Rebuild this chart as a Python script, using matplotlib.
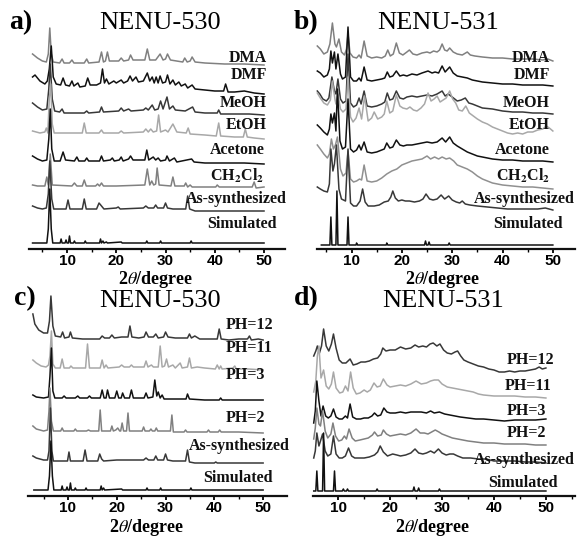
import numpy as np
import matplotlib
matplotlib.use("Agg")
import matplotlib.pyplot as plt
from matplotlib.ticker import MultipleLocator

plt.rcParams['font.family'] = ['Liberation Serif', 'DejaVu Serif']
plt.rcParams['mathtext.fontset'] = 'stix'

# ---- data: each trace is flat (2theta, offset intensity) pairs ----

# a) NENU-530, solvents
a_names = ['DMA', 'DMF', 'MeOH', 'EtOH', 'Acetone', r'CH$_\mathbf{2}$Cl$_\mathbf{2}$', 'As-synthesized', 'Simulated']
a_dma = [3.0, 195, 4.0, 191, 5.0, 188, 5.8, 187, 6.2, 195, 6.5, 221, 6.8, 195, 7.2, 187, 8.5, 186, 9.0, 190, 9.4, 186,
         10.5, 186, 11.0, 189, 11.4, 186, 13.5, 186, 14.0, 190, 14.4, 186, 16.5, 187, 17.0, 197, 17.4, 187, 17.8, 188,
         18.2, 197, 18.6, 188, 20.5, 188, 21.0, 191, 21.5, 188, 22.5, 189, 22.9, 194, 23.4, 189, 25.8, 189, 26.3, 200,
         26.8, 189, 28.0, 189, 28.9, 195, 29.5, 189, 30.0, 190, 30.4, 195, 31.0, 189, 33.5, 187, 33.9, 191, 34.4, 187,
         35.0, 188, 35.4, 192, 36.0, 187, 38.0, 186, 42.0, 185, 46.0, 185, 50.0, 184]
a_dmf = [3.0, 172, 3.5, 174, 4.5, 168, 5.5, 165, 6.0, 168, 6.4, 180, 6.8, 203, 7.2, 172, 7.8, 165, 8.7, 164, 9.2, 171,
         9.7, 164, 10.5, 163, 11.0, 168, 11.4, 163, 12.2, 166, 12.6, 162, 13.7, 163, 14.2, 171, 14.7, 164, 16.0, 164,
         16.8, 166, 17.2, 180, 17.6, 166, 18.0, 170, 18.5, 165, 19.5, 168, 20.0, 166, 21.0, 169, 21.5, 166, 22.3, 168,
         22.8, 173, 23.3, 168, 24.0, 172, 24.5, 167, 25.5, 168, 26.3, 176, 26.8, 168, 27.3, 172, 27.7, 166, 28.1, 172,
         28.5, 166, 28.9, 173, 29.4, 166, 30.0, 167, 30.4, 174, 30.9, 165, 31.5, 169, 32.0, 164, 32.7, 167, 33.2, 163,
         34.0, 165, 34.5, 161, 35.4, 164, 36.0, 160, 38.0, 159, 40.0, 158, 41.8, 158, 42.2, 165, 42.7, 157, 44.0, 157,
         46.0, 158, 48.0, 156, 50.0, 155]
a_meoh = [3.0, 146, 4.0, 142, 5.0, 139, 5.9, 140, 6.3, 160, 6.6, 185, 7.0, 150, 7.5, 138, 8.5, 137, 9.0, 140, 9.4, 136,
          11.0, 136, 13.5, 136, 14.0, 138, 14.4, 136, 16.6, 137, 17.0, 142, 17.4, 137, 20.5, 138, 21.0, 141, 21.5, 138,
          22.5, 140, 23.0, 138, 25.5, 139, 26.0, 141, 26.5, 139, 27.3, 144, 27.8, 139, 28.5, 140, 29.0, 148, 29.5, 140,
          30.3, 152, 30.8, 140, 31.5, 143, 32.0, 139, 34.0, 138, 35.5, 142, 36.0, 137, 38.0, 136, 40.5, 136, 40.8, 139,
          41.2, 135, 44.0, 135, 47.0, 135, 50.0, 134]
a_etoh = [3.0, 118, 4.5, 116, 5.5, 117, 5.8, 121, 6.1, 116, 6.4, 150, 6.7, 165, 7.0, 125, 7.4, 116, 10.0, 116, 13.1, 116,
          13.5, 126, 13.9, 116, 16.5, 116, 17.0, 119, 17.4, 116, 20.5, 116, 21.0, 118, 21.5, 116, 25.5, 117, 26.0, 120,
          26.5, 117, 27.0, 120, 27.5, 117, 28.2, 118, 28.6, 134, 29.0, 117, 30.0, 119, 30.5, 117, 31.5, 125, 32.3, 117,
          34.2, 116, 34.6, 121, 35.0, 115, 38.0, 114, 40.3, 113, 40.8, 126, 41.2, 113, 44.0, 112, 45.8, 112, 46.2, 120,
          46.6, 112, 48.0, 111, 50.0, 110]
a_acetone = [3.0, 93, 4.0, 90, 5.0, 88, 5.9, 89, 6.3, 110, 6.6, 140, 6.9, 100, 7.4, 88, 8.6, 88, 9.2, 97, 9.7, 89,
             11.5, 88, 12.0, 92, 12.4, 88, 13.6, 88, 14.0, 91, 14.4, 88, 16.6, 88, 17.0, 93, 17.4, 88, 18.8, 89, 19.2, 91,
             19.6, 88, 20.6, 89, 21.0, 92, 21.4, 88, 22.5, 90, 22.9, 93, 23.4, 89, 25.8, 89, 26.2, 99, 26.6, 89, 27.5, 92,
             28.0, 89, 28.5, 91, 29.0, 88, 30.0, 89, 30.3, 93, 30.8, 88, 31.8, 91, 32.3, 87, 35.3, 90, 35.8, 87, 38.0, 86,
             42.0, 86, 46.0, 86, 50.0, 85]
a_ch2cl2 = [3.0, 64, 4.0, 63, 5.5, 63, 5.9, 72, 6.2, 64, 6.6, 95, 7.0, 64, 11.0, 63, 11.5, 66, 12.0, 63, 13.1, 63,
            13.5, 69, 13.9, 63, 15.8, 63, 16.2, 65, 16.6, 63, 17.0, 66, 17.4, 63, 20.0, 63, 25.8, 64, 26.3, 80, 26.8, 64,
            27.2, 68, 27.6, 64, 28.0, 65, 28.3, 81, 28.7, 64, 31.1, 63, 31.5, 72, 31.9, 63, 33.8, 63, 34.1, 66, 34.5, 62,
            35.0, 64, 35.4, 62, 40.2, 62, 40.5, 64, 40.9, 62, 47.6, 62, 48.0, 67, 48.4, 61, 50.0, 62]
a_assyn = [3.0, 43, 4.0, 41, 5.0, 40, 5.8, 41, 6.2, 55, 6.5, 88, 6.9, 50, 7.3, 40, 9.8, 40, 10.2, 49, 10.6, 40,
           13.1, 40, 13.5, 50, 13.9, 40, 16.0, 40, 16.5, 46, 17.0, 43, 17.5, 40, 20.0, 41, 20.4, 42, 20.8, 40, 25.5, 41,
           26.0, 43, 26.5, 41, 27.6, 41, 28.0, 44, 28.4, 41, 29.6, 41, 30.0, 46, 30.4, 41, 31.5, 40, 34.1, 40, 34.5, 53,
           34.9, 40, 36.0, 38, 40.0, 38, 45.0, 38, 50.0, 38]
a_sim = [3.0, 6, 5.9, 6, 6.2, 20, 6.5, 60, 6.8, 20, 7.1, 6, 8.6, 6, 8.8, 10, 9.0, 6, 9.6, 6, 9.8, 9, 10.0, 6, 10.3, 6,
         10.5, 13, 10.7, 6, 11.3, 6, 11.5, 8, 11.7, 6, 13.5, 6, 13.7, 8, 13.9, 6, 16.6, 6, 16.8, 10, 17.0, 6, 17.3, 8,
         17.5, 6, 18.0, 7, 18.2, 6, 21.0, 7, 21.2, 6, 26.0, 6, 26.2, 8, 26.4, 6, 28.8, 6, 29.0, 8, 29.2, 6, 35.0, 6,
         35.2, 8, 35.4, 6, 50.0, 6]

# b) NENU-531, solvents
b_names = a_names
b_dma = [3.2, 203, 3.8, 200, 4.5, 195, 5.2, 197, 5.7, 205, 6.2, 226, 6.7, 205, 7.0, 202, 7.5, 210, 8.0, 197, 8.6, 194,
         9.0, 200, 9.3, 215, 9.7, 196, 10.3, 192, 11.0, 191, 11.5, 194, 11.9, 191, 12.5, 208, 13.1, 193, 14.0, 191,
         15.0, 192, 16.0, 191, 16.7, 193, 17.2, 199, 17.7, 193, 18.3, 195, 18.9, 206, 19.5, 196, 20.2, 194, 21.0, 197,
         21.5, 199, 22.2, 195, 23.0, 194, 24.0, 196, 25.0, 197, 25.6, 196, 26.3, 198, 27.0, 197, 27.5, 199, 28.0, 205,
         28.5, 199, 29.0, 198, 29.5, 201, 30.2, 197, 31.0, 195, 32.0, 194, 33.0, 197, 33.6, 194, 34.5, 193, 36.0, 192,
         38.0, 191, 40.0, 191, 42.0, 190, 44.0, 190, 46.0, 190, 48.0, 189, 49.0, 190, 50.0, 188]
b_dmf = [3.2, 178, 3.8, 176, 4.5, 172, 5.2, 174, 5.6, 180, 5.9, 198, 6.2, 186, 6.6, 197, 6.9, 180, 7.3, 195, 7.8, 175,
         8.2, 170, 8.8, 172, 9.3, 222, 9.8, 172, 10.4, 168, 11.0, 168, 11.5, 171, 11.9, 168, 12.5, 182, 13.1, 169,
         14.0, 168, 15.0, 169, 16.0, 170, 16.6, 171, 17.1, 177, 17.6, 172, 18.2, 173, 18.9, 178, 19.6, 173, 20.3, 174,
         21.0, 173, 22.0, 175, 23.0, 174, 24.0, 176, 25.2, 178, 26.0, 176, 26.6, 177, 27.3, 176, 28.0, 183, 28.6, 177,
         29.5, 182, 30.2, 176, 31.0, 173, 32.0, 172, 33.0, 171, 34.0, 169, 35.0, 168, 36.0, 167, 38.0, 166, 40.0, 165,
         42.0, 165, 44.0, 164, 46.0, 164, 48.0, 164, 50.0, 163]
b_meoh = [3.2, 158, 3.7, 155, 4.3, 150, 5.0, 148, 5.5, 151, 6.1, 172, 6.6, 158, 6.9, 155, 7.3, 170, 7.8, 150, 8.3, 146,
          8.9, 148, 9.3, 195, 9.8, 146, 10.4, 142, 11.0, 144, 11.5, 151, 11.9, 145, 12.5, 158, 13.1, 143, 14.0, 142,
          15.0, 143, 16.0, 145, 16.6, 147, 17.1, 156, 17.6, 149, 18.2, 150, 18.9, 158, 19.6, 151, 20.3, 150, 21.0, 152,
          22.0, 153, 23.0, 152, 24.0, 153, 25.0, 154, 26.0, 153, 27.0, 155, 28.0, 158, 28.6, 153, 29.2, 155, 30.0, 152,
          31.0, 148, 31.8, 149, 32.6, 151, 33.3, 146, 34.0, 145, 35.0, 143, 36.0, 141, 38.0, 140, 40.0, 138, 42.0, 137,
          44.0, 137, 46.0, 136, 48.0, 136, 50.0, 135]
b_etoh = [3.2, 156, 3.8, 151, 4.5, 146, 5.2, 144, 5.8, 149, 6.2, 168, 6.7, 150, 6.9, 145, 7.3, 155, 7.8, 140, 8.3, 137,
          8.9, 140, 9.3, 172, 9.8, 132, 10.3, 127, 10.9, 131, 11.5, 141, 12.0, 130, 12.6, 153, 13.3, 128, 14.0, 131,
          14.5, 137, 15.2, 130, 16.0, 132, 16.5, 135, 17.0, 148, 17.6, 136, 18.2, 138, 18.9, 154, 19.6, 143, 20.2, 141,
          21.0, 140, 21.6, 142, 22.3, 139, 23.0, 138, 23.8, 141, 24.5, 145, 25.2, 156, 25.8, 148, 26.4, 150, 27.0, 153,
          27.6, 147, 28.2, 149, 28.8, 151, 29.5, 158, 30.1, 150, 30.7, 146, 31.3, 139, 32.0, 138, 32.7, 143, 33.4, 136,
          34.2, 133, 35.0, 130, 36.0, 127, 37.0, 125, 38.0, 122, 39.0, 120, 40.0, 118, 41.0, 116, 42.0, 115, 43.0, 116,
          44.0, 115, 45.0, 117, 46.0, 117, 47.0, 119, 48.0, 120, 48.7, 123, 49.3, 121, 50.0, 118]
b_acetone = [3.2, 124, 3.8, 121, 4.5, 117, 5.2, 114, 5.6, 120, 5.9, 135, 6.2, 126, 6.6, 136, 6.9, 118, 7.2, 160,
             7.7, 108, 8.2, 100, 8.8, 102, 9.3, 150, 9.8, 100, 10.4, 97, 11.0, 99, 11.5, 104, 11.9, 99, 12.5, 107,
             13.1, 97, 14.0, 96, 15.0, 97, 16.0, 99, 16.5, 100, 17.0, 106, 17.6, 101, 18.2, 102, 18.9, 109, 19.6, 104,
             20.3, 103, 21.0, 104, 22.0, 104, 23.0, 105, 24.0, 106, 25.0, 107, 26.0, 106, 27.0, 107, 28.0, 111,
             28.7, 107, 29.5, 112, 30.2, 106, 31.0, 103, 32.0, 100, 33.0, 97, 34.0, 95, 35.0, 93, 36.0, 92, 38.0, 90,
             40.0, 89, 42.0, 89, 44.0, 88, 46.0, 88, 48.0, 88, 50.0, 87]
b_ch2cl2 = [3.2, 104, 3.8, 100, 4.5, 95, 5.2, 91, 5.6, 95, 6.0, 110, 6.4, 100, 6.8, 104, 7.2, 112, 7.8, 80, 8.3, 73,
            8.9, 76, 9.3, 98, 9.8, 70, 10.4, 67, 11.0, 68, 11.6, 70, 12.0, 69, 12.5, 84, 13.1, 68, 14.0, 67, 15.0, 68,
            16.0, 71, 17.0, 75, 18.0, 78, 19.0, 80, 20.0, 84, 21.0, 86, 22.0, 88, 23.0, 89, 24.0, 90, 25.0, 93,
            25.7, 90, 26.5, 92, 27.3, 90, 28.0, 92, 28.8, 90, 29.5, 91, 30.3, 88, 31.0, 84, 32.0, 82, 33.0, 80,
            34.0, 77, 35.0, 73, 36.0, 70, 37.0, 68, 38.0, 66, 40.0, 64, 42.0, 63, 44.0, 62, 46.0, 62, 48.0, 61, 50.0, 60]
b_assyn = [3.2, 62, 3.8, 60, 4.5, 58, 5.2, 57, 5.6, 65, 5.9, 100, 6.3, 78, 6.6, 85, 7.0, 104, 7.5, 60, 8.0, 50,
           8.8, 48, 9.3, 100, 9.8, 46, 10.4, 43, 11.0, 43, 11.7, 48, 12.2, 60, 12.7, 47, 13.3, 43, 14.5, 43, 15.5, 44,
           16.5, 47, 17.3, 48, 17.8, 52, 18.2, 58, 18.7, 51, 19.3, 48, 20.0, 49, 20.7, 48, 21.5, 48, 22.5, 47, 23.5, 48,
           24.2, 50, 24.8, 55, 25.5, 50, 26.2, 49, 27.0, 50, 27.8, 54, 28.5, 50, 29.3, 53, 30.0, 49, 30.8, 47, 31.5, 46,
           32.0, 48, 32.6, 45, 33.5, 44, 35.0, 43, 37.0, 42, 39.0, 41, 41.0, 40, 43.0, 40, 45.0, 40, 47.0, 40,
           48.5, 41, 50.0, 39]
b_sim = [4.0, 4, 5.7, 4, 5.9, 32, 6.1, 4, 6.9, 4, 7.1, 58, 7.3, 4, 9.1, 4, 9.3, 32, 9.5, 4, 10.9, 4, 11.0, 6, 11.2, 4,
         16.9, 4, 17.0, 6, 17.2, 4, 24.5, 4, 24.7, 8, 24.9, 4, 25.2, 4, 25.4, 7, 25.6, 4, 29.2, 4, 29.4, 6, 29.6, 4,
         50.0, 4]

# c) NENU-530, pH
c_names = ['PH=12', 'PH=11', 'PH=3', 'PH=2', 'As-synthesized', 'Simulated']
c_ph12 = [2.8, 182, 3.2, 172, 4.0, 166, 5.0, 163, 5.8, 163, 6.2, 175, 6.5, 200, 6.9, 170, 7.4, 160, 8.5, 159, 8.9, 164,
          9.3, 158, 10.2, 159, 10.5, 164, 10.9, 158, 13.0, 157, 16.5, 157, 17.0, 160, 17.5, 158, 18.5, 158, 19.0, 161,
          19.5, 158, 21.0, 159, 22.3, 159, 22.7, 170, 23.1, 159, 24.5, 158, 25.6, 159, 26.0, 164, 26.5, 159, 27.5, 159,
          28.0, 162, 28.5, 158, 29.6, 159, 30.0, 164, 30.5, 159, 32.0, 158, 34.5, 158, 34.9, 162, 35.3, 158, 36.0, 160,
          37.0, 157, 40.6, 157, 41.0, 167, 41.4, 157, 43.0, 156, 45.0, 157, 46.8, 157, 47.2, 160, 47.6, 156, 49.0, 157,
          50.0, 156]
c_ph11 = [2.8, 136, 3.5, 133, 4.5, 130, 5.5, 129, 6.0, 131, 6.3, 140, 6.6, 165, 6.9, 132, 7.4, 128, 8.4, 128, 8.8, 137,
          9.2, 128, 10.3, 128, 10.6, 130, 11.0, 128, 13.6, 128, 14.0, 152, 14.4, 128, 16.6, 128, 17.0, 136, 17.4, 128,
          17.8, 131, 18.2, 128, 20.5, 129, 21.0, 131, 21.5, 129, 22.6, 129, 23.0, 131, 23.4, 129, 25.6, 129, 26.0, 135,
          26.4, 129, 27.1, 131, 27.5, 129, 28.5, 129, 28.9, 150, 29.3, 129, 29.8, 130, 30.2, 137, 30.6, 129, 31.5, 131,
          32.0, 128, 33.0, 133, 33.4, 128, 34.5, 129, 34.9, 138, 35.3, 128, 36.5, 129, 38.0, 128, 40.2, 127, 40.6, 131,
          41.0, 127, 41.3, 130, 41.6, 127, 43.8, 128, 44.2, 130, 44.5, 127, 47.0, 127, 50.0, 126]
c_ph3 = [2.8, 101, 3.5, 99, 5.0, 98, 6.0, 99, 6.3, 120, 6.6, 148, 6.9, 105, 7.3, 98, 8.8, 98, 9.2, 100, 9.6, 98,
         11.5, 98, 12.0, 100, 12.4, 98, 14.0, 98, 14.4, 100, 14.8, 98, 16.6, 98, 17.0, 106, 17.4, 98, 17.8, 98,
         18.1, 106, 18.5, 98, 19.6, 98, 20.0, 105, 20.4, 98, 20.9, 98, 21.2, 103, 21.6, 98, 22.6, 98, 23.0, 106,
         23.4, 98, 25.6, 98, 26.0, 103, 26.4, 98, 27.4, 99, 27.8, 116, 28.2, 100, 28.5, 104, 28.9, 98, 29.3, 101,
         29.7, 97, 31.5, 97, 34.2, 97, 34.5, 102, 34.9, 97, 38.0, 96, 41.0, 96, 41.3, 98, 41.6, 96, 45.0, 96, 50.0, 96]
c_ph2 = [2.8, 70, 3.5, 67, 5.0, 65, 5.8, 66, 6.1, 85, 6.3, 108, 6.6, 75, 7.0, 65, 8.5, 65, 8.8, 68, 9.1, 65, 11.2, 65,
         11.5, 67, 11.8, 65, 13.8, 65, 14.2, 66, 14.6, 65, 16.3, 65, 16.6, 86, 16.9, 65, 18.7, 65, 19.0, 70, 19.3, 65,
         19.8, 66, 20.2, 68, 20.6, 65, 20.8, 65, 21.1, 73, 21.4, 65, 22.0, 65, 22.3, 83, 22.6, 65, 25.2, 65, 25.5, 69,
         25.8, 65, 26.7, 65, 27.0, 67, 27.3, 65, 27.8, 65, 28.1, 68, 28.4, 65, 31.0, 65, 31.3, 81, 31.6, 64, 33.8, 64,
         34.1, 66, 34.4, 64, 38.5, 64, 38.8, 66, 39.1, 64, 40.8, 64, 41.1, 66, 41.4, 64, 45.0, 64, 50.0, 63]
c_assyn = [2.8, 40, 3.5, 38, 5.0, 36, 5.8, 36, 6.1, 45, 6.4, 88, 6.7, 45, 7.0, 35, 9.9, 35, 10.2, 44, 10.5, 35,
           13.1, 35, 13.5, 46, 13.9, 35, 16.1, 35, 16.5, 42, 16.9, 37, 17.3, 35, 20.0, 36, 25.5, 36, 26.0, 38, 26.5, 36,
           27.6, 36, 28.0, 40, 28.4, 36, 29.6, 36, 30.0, 42, 30.4, 36, 31.5, 35, 34.1, 35, 34.5, 46, 34.9, 34, 36.0, 33,
           40.0, 33, 40.3, 34, 40.6, 33, 45.0, 33, 50.0, 33]
c_sim = [3.0, 6, 5.9, 6, 6.2, 20, 6.5, 55, 6.8, 20, 7.1, 6, 8.6, 6, 8.8, 10, 9.0, 6, 9.6, 6, 9.8, 9, 10.0, 6, 10.3, 6,
         10.5, 13, 10.7, 6, 11.3, 6, 11.5, 8, 11.7, 6, 13.5, 6, 13.7, 8, 13.9, 6, 16.6, 6, 16.8, 10, 17.0, 6, 17.3, 8,
         17.5, 6, 21.0, 7, 21.2, 6, 26.0, 6, 26.2, 8, 26.4, 6, 28.8, 6, 29.0, 8, 29.2, 6, 35.0, 6, 35.2, 8, 35.4, 6,
         50.0, 6]

# d) NENU-531, pH
d_names = c_names
d_ph12 = [5.3, 140, 5.7, 145, 6.0, 150, 6.4, 143, 6.8, 150, 7.2, 167, 7.7, 150, 8.2, 145, 8.7, 152, 9.1, 162, 9.6, 148,
          10.2, 136, 10.8, 133, 11.5, 133, 12.3, 137, 12.9, 131, 13.6, 132, 14.4, 134, 15.2, 134, 16.0, 135, 16.8, 137,
          17.6, 138, 18.2, 142, 18.6, 148, 19.2, 145, 20.0, 146, 21.0, 146, 22.0, 149, 23.0, 147, 24.0, 148, 24.8, 151,
          25.5, 149, 26.3, 150, 27.0, 149, 27.7, 152, 28.3, 153, 29.0, 150, 29.6, 152, 30.3, 146, 31.0, 143, 31.8, 142,
          32.5, 144, 33.0, 145, 33.6, 140, 34.2, 136, 35.0, 134, 36.0, 132, 37.0, 130, 38.0, 129, 39.0, 127, 40.0, 126,
          41.0, 124, 42.0, 124, 43.0, 125, 44.0, 124, 45.0, 125, 46.0, 125, 47.0, 126, 48.0, 127, 48.7, 129, 49.3, 127,
          50.0, 128]
d_ph11 = [5.3, 104, 5.7, 115, 6.0, 140, 6.3, 150, 6.7, 118, 7.2, 126, 7.7, 110, 8.2, 107, 8.7, 112, 9.1, 124, 9.6, 108,
          10.3, 103, 10.9, 104, 11.4, 110, 11.9, 105, 12.4, 124, 12.9, 108, 13.5, 102, 14.2, 103, 15.0, 106, 15.6, 104,
          16.2, 106, 16.9, 113, 17.5, 109, 18.1, 110, 18.7, 117, 19.4, 111, 20.0, 109, 21.0, 110, 22.0, 111, 23.0, 110,
          24.0, 112, 25.0, 115, 26.0, 112, 27.0, 113, 27.8, 115, 28.5, 116, 29.3, 116, 30.0, 112, 31.0, 109, 32.0, 108,
          33.0, 107, 34.0, 106, 35.0, 105, 36.0, 104, 37.0, 102, 38.0, 101, 40.0, 100, 42.0, 100, 44.0, 100, 46.0, 99,
          48.0, 99, 50.0, 98]
d_ph3 = [5.3, 73, 5.6, 85, 5.9, 115, 6.3, 95, 6.7, 80, 7.1, 90, 7.6, 80, 8.1, 78, 8.6, 80, 9.1, 87, 9.6, 79, 10.2, 77,
         10.8, 77, 11.4, 80, 11.8, 78, 12.3, 92, 12.8, 79, 13.5, 77, 14.3, 77, 15.0, 78, 15.8, 78, 16.5, 80, 17.0, 83,
         17.6, 80, 18.2, 81, 18.8, 88, 19.4, 84, 20.0, 83, 21.0, 83, 22.0, 84, 23.0, 83, 24.0, 84, 25.0, 84, 26.0, 84,
         27.0, 83, 27.8, 85, 28.5, 83, 29.5, 84, 30.5, 82, 31.5, 81, 32.5, 80, 33.5, 79, 35.0, 78, 36.5, 77, 38.0, 77,
         40.0, 76, 42.0, 75, 44.0, 76, 46.0, 76, 48.0, 76, 50.0, 77]
d_ph2 = [5.3, 57, 5.6, 68, 5.9, 88, 6.3, 72, 6.6, 70, 7.0, 85, 7.5, 65, 8.0, 58, 8.6, 62, 9.0, 73, 9.5, 60, 10.1, 55,
         10.7, 56, 11.2, 60, 11.6, 57, 12.1, 67, 12.7, 58, 13.3, 55, 14.2, 56, 15.0, 57, 15.8, 58, 16.6, 61, 17.0, 64,
         17.6, 60, 18.3, 61, 18.7, 66, 19.3, 62, 20.0, 60, 21.0, 61, 22.0, 62, 23.0, 61, 24.0, 63, 25.0, 67, 25.8, 63,
         26.6, 63, 27.3, 62, 28.0, 64, 28.7, 66, 29.4, 64, 30.0, 62, 31.0, 60, 32.0, 58, 33.0, 57, 34.0, 56, 35.0, 55,
         36.5, 54, 38.0, 53, 40.0, 53, 42.0, 52, 44.0, 52, 46.0, 52, 48.0, 51, 50.0, 51]
d_assyn = [5.3, 38, 5.6, 45, 5.9, 63, 6.3, 50, 6.6, 55, 7.0, 62, 7.5, 45, 8.0, 40, 8.6, 42, 9.1, 60, 9.6, 42, 10.2, 38,
           10.8, 38, 11.4, 40, 12.0, 48, 12.6, 40, 13.2, 38, 14.0, 38, 15.0, 38, 16.0, 39, 17.0, 41, 17.6, 44, 18.1, 50,
           18.7, 44, 19.5, 40, 20.5, 42, 21.3, 41, 22.0, 40, 23.0, 41, 24.0, 43, 24.8, 47, 25.5, 43, 26.3, 42, 27.0, 43,
           27.8, 45, 28.5, 43, 29.3, 47, 30.0, 43, 30.8, 41, 31.5, 42, 32.2, 42, 33.0, 40, 34.0, 38, 35.5, 38, 37.0, 37,
           38.5, 37, 40.0, 35, 42.0, 35, 44.0, 35, 46.0, 34, 48.0, 34, 50.0, 33]
d_sim = [5.3, 5, 5.7, 5, 5.9, 25, 6.1, 5, 7.0, 5, 7.2, 63, 7.4, 5, 9.1, 5, 9.3, 25, 9.5, 5, 10.8, 5, 11.0, 7, 11.2, 5,
         11.6, 5, 11.8, 7, 12.0, 5, 17.3, 5, 17.5, 7, 17.7, 5, 24.4, 5, 24.6, 9, 24.8, 5, 25.3, 5, 25.5, 8, 25.7, 5,
         29.3, 5, 29.5, 7, 29.7, 5, 50.0, 5]

ticks = [10, 20, 30, 40, 50]

# ---- drawing ----
LIGHT, GRAY, DARK, BLACK = '#a8a8a8', '#808080', '#383838', '#111111'
W, H = 577, 538
fig = plt.figure(figsize=(W / 100, H / 100), dpi=100)


def pairs(flat):
    arr = np.array(flat, dtype=float).reshape(-1, 2)
    return arr[:, 0], arr[:, 1]


def panel(box, xlim, traces, names, label_pos):
    px0, px1, py_axis, py_top = box
    ax = fig.add_axes([px0 / W, 1 - py_axis / H, (px1 - px0) / W, (py_axis - py_top) / H])
    ax.patch.set_alpha(0)
    for (data, color), name, (lx, ly) in zip(traces, names, label_pos):
        x, y = pairs(data)
        ax.plot(x, y, color=color, lw=1.1, clip_on=False, solid_joinstyle='round')
        ax.text(lx, ly, name, ha='right', va='center', fontsize=11.5, fontweight='bold', color='#111111')
    ax.set_xlim(*xlim)
    ax.set_ylim(0, py_axis - py_top)
    for s in ['left', 'right', 'top']:
        ax.spines[s].set_visible(False)
    ax.spines['bottom'].set_linewidth(1.6)
    ax.spines['bottom'].set_color('#111111')
    ax.set_yticks([])
    ax.set_xticks(ticks)
    ax.xaxis.set_minor_locator(MultipleLocator(5))
    ax.tick_params(axis='x', which='major', direction='out', length=3, width=1.3, pad=0.5, labelsize=11)
    ax.tick_params(axis='x', which='minor', direction='out', length=2, width=1.0)
    for t in ax.get_xticklabels():
        t.set_fontfamily('Liberation Sans')
        t.set_fontweight('bold')
    return ax


panel((29, 285, 249, 22), (2.28, 54.26),
      [(a_dma, GRAY), (a_dmf, BLACK), (a_meoh, DARK), (a_etoh, LIGHT),
       (a_acetone, BLACK), (a_ch2cl2, GRAY), (a_assyn, DARK), (a_sim, BLACK)],
      a_names,
      [(50.6, 191), (50.6, 174), (50.6, 146), (50.6, 124), (50.1, 99), (50.1, 73), (54.7, 50), (52.6, 25)])

panel((317, 575, 249, 22), (3.14, 54.4),
      [(b_dma, GRAY), (b_dmf, BLACK), (b_meoh, DARK), (b_etoh, LIGHT),
       (b_acetone, BLACK), (b_ch2cl2, '#909090'), (b_assyn, DARK), (b_sim, BLACK)],
      b_names,
      [(49.4, 191), (49.4, 174), (49.4, 146), (49.4, 124), (49.4, 99), (49.4, 73), (54.4, 50), (52.0, 25)])

panel((28, 287, 496, 290), (1.8, 54.9),
      [(c_ph12, DARK), (c_ph11, LIGHT), (c_ph3, BLACK), (c_ph2, GRAY), (c_assyn, DARK), (c_sim, BLACK)],
      c_names,
      [(52.0, 171), (52.0, 148), (50.4, 121), (50.4, 78), (55.5, 50), (52.0, 18)])

panel((313, 575, 496, 320), (5.16, 55.6),
      [(d_ph12, DARK), (d_ph11, LIGHT), (d_ph3, BLACK), (d_ph2, GRAY), (d_assyn, DARK), (d_sim, BLACK)],
      d_names,
      [(51.6, 136), (51.0, 110), (50.0, 85), (50.0, 63), (55.5, 36), (52.2, 13)])


def ftext(px, py, s, **kw):
    fig.text(px / W, 1 - py / H, s, ha='center', va='center', **kw)


for (px, py), s in zip([(160, 23), (438, 23), (160, 301), (443, 301)], ['NENU-530', 'NENU-531', 'NENU-530', 'NENU-531']):
    ftext(px, py, s, fontsize=19)
for (px, py), s in zip([(21, 23), (306, 23), (25, 299), (306, 299)], ['a)', 'b)', 'c)', 'd)']):
    ftext(px, py, s, fontsize=20, fontweight='bold')
for px, py in [(156, 279), (443, 279), (147, 527), (433, 527)]:
    ftext(px, py, r'2$\theta$/degree', fontsize=13, fontweight='bold')

fig.savefig('out.png', dpi=100)
